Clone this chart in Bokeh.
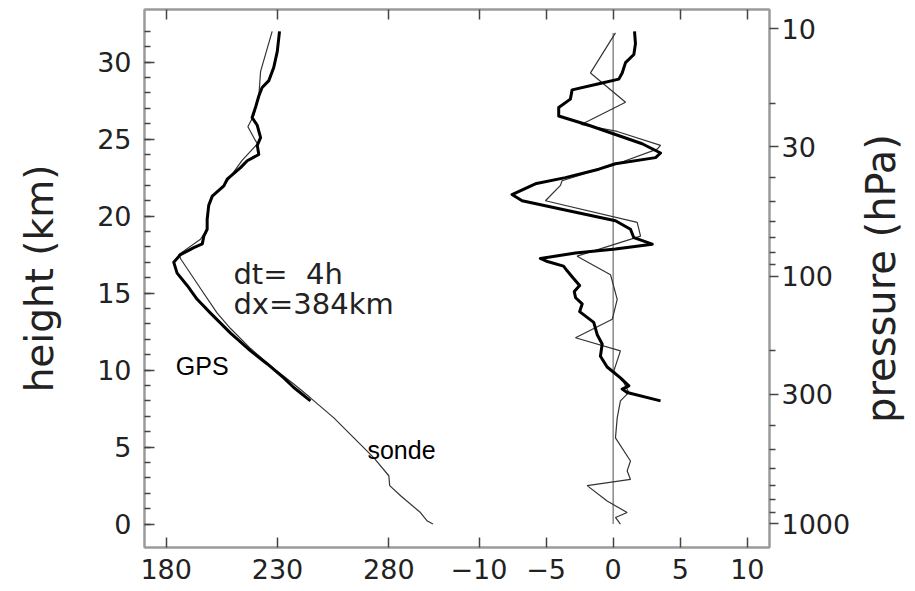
import math
from bokeh.plotting import figure
from bokeh.layouts import row
from bokeh.models import (Range1d, LinearAxis, LogAxis, LogScale, FixedTicker,
                          CustomJSTickFormatter, BasicTickFormatter)
from bokeh.core.properties import value
from bokeh.embed import file_html
from bokeh.resources import INLINE

# ---------------- data ----------------
# GPS temperature profile (K) vs height (km)
gps_h = [32.0, 30.7, 29.65, 28.8, 28.35, 27.8, 27.05, 26.4, 25.9, 25.1, 24.6, 24.0,
         23.6, 23.15, 22.4, 21.97, 21.3, 20.7, 19.8, 19.15, 18.7, 18.2, 17.96, 17.5,
         17.0, 16.3, 15.5, 14.6, 13.7, 12.4, 11.25, 10.4, 9.5, 8.87, 8.0]
gps_T = [230.9, 229.9, 228.3, 226.1, 223.1, 221.6, 220.1, 218.6, 220.9, 222.4, 220.9, 221.6,
         216.4, 213.4, 207.4, 205.9, 200.7, 199.1, 198.4, 198.4, 196.9, 196.2, 192.4, 186.4,
         183.4, 184.9, 189.4, 193.9, 199.9, 208.9, 217.9, 225.4, 232.8, 237.3, 244.8]

# radiosonde temperature profile (K) vs height (km)
sonde_h = [32.0, 29.4, 28.6, 27.8, 27.05, 26.6, 25.8, 24.9, 24.7, 23.6, 22.7, 21.97,
           21.3, 20.7, 19.8, 19.15, 18.5, 17.5, 17.2, 16.6, 15.3, 13.7, 12.7, 11.4,
           10.1, 9.1, 8.2, 6.9, 5.6, 4.3, 3.14, 2.5, 1.84, 0.75, 0.2, 0.0]
sonde_T = [227.6, 222.4, 222.0, 221.6, 220.1, 219.5, 216.7, 220.1, 221.0, 214.0, 209.5, 205.9,
           200.7, 199.1, 198.4, 198.4, 195.4, 185.6, 186.6, 189.4, 195.4, 202.9, 208.9, 217.9,
           228.3, 237.3, 244.8, 255.3, 264.3, 273.3, 280.0, 280.4, 285.3, 294.2, 297.3, 299.8]

# temperature difference, GPS (thick) (K) vs height (km)
dgps_h = [32.0, 31.2, 30.5, 29.97, 29.3, 28.9, 28.6, 28.2, 27.6, 27.05, 26.5, 25.9,
          25.3, 24.7, 24.1, 23.8, 23.4, 23.05, 22.5, 22.1, 21.4, 21.0, 20.3, 19.7,
          19.15, 18.6, 18.18, 17.86, 17.6, 17.25, 17.05, 16.75, 16.45, 16.0, 15.5, 15.1,
          14.7, 14.3, 13.8, 13.1, 12.3, 11.7, 10.9, 10.2, 9.5, 8.98, 8.77, 8.55, 8.0]
dgps_d = [1.59, 1.66, 1.54, 0.92, 0.67, 0.42, -1.07, -3.06, -3.19, -4.06, -4.06, -1.82,
          0.17, 2.16, 3.53, 3.16, 0.17, -1.07, -3.56, -5.8, -7.54, -6.79, -3.06, 0.17,
          1.29, 1.54, 2.91, 0.17, -2.81, -5.43, -4.9, -3.7, -3.43, -3.0, -2.5, -2.9,
          -2.8, -2.31, -2.5, -1.45, -1.19, -0.82, -0.95, -0.45, 0.54, 1.17, 0.67, 1.04, 3.53]

# temperature difference, sonde (thin) (K) vs height (km)
dsonde_h = [31.9, 29.3, 27.4, 26.2, 25.95, 25.5, 24.6, 24.35, 23.4, 22.3, 22.0, 21.0,
            19.6, 18.7, 17.4, 16.2, 14.6, 13.3, 12.1, 11.25, 9.95, 9.2, 8.55, 8.0,
            6.9, 5.6, 4.1, 3.46, 2.9, 2.5, 1.5, 0.75, 0.43, 0.0]
dsonde_d = [0.17, -1.69, 0.92, -1.82, -2.4, 0.3, 3.53, 3.28, 0.3, -3.81, -3.93, -5.05,
            1.79, 2.04, -2.69, -0.2, 0.3, -0.07, -2.81, 0.54, 0.05, 0.79, 1.17, 0.54,
            0.3, 0.17, 1.29, 1.04, 1.29, -1.94, -0.45, 1.04, 0.17, 0.54]

# tick labels
temp_ticks = [180, 230, 280]
diff_ticks = [-10, -5, 0, 5, 10]
x_tick_labels = ["180", "230", "280", "\u221210", "\u22125", "0", "5", "10"]
height_ticks = [0, 5, 10, 15, 20, 25, 30]
height_minor = list(range(0, 33))
p_ticks = [10, 30, 100, 300, 1000]
p_minor = [20, 40, 50, 60, 70, 80, 90, 200, 400, 500, 600, 700, 800, 900]

annot_text = ["dt=\u00a0\u00a04h", "dx=384km"]
annot_T = [210.2, 210.2]
annot_h = [16.25, 14.3]
label_text = ["GPS", "sonde"]
label_T = [184.3, 270.4]
label_h = [10.26, 4.83]

# ---------------- figure ----------------
T_LO, T_HI = 170.25, 451.0
D_LO, D_HI = -34.93, 11.65
H_LO, H_HI = -1.52, 33.42
P_BOT, P_TOP = 1250.0, 8.35

FRAME = "#9a9a9a"
TICK = "#444444"
FONT = "DejaVu Sans"
MAIN_W = 854
SIDE_W = 915 - MAIN_W

p = figure(width=MAIN_W, height=591, output_backend="svg", toolbar_location=None,
           x_range=Range1d(T_LO, T_HI), y_range=Range1d(H_LO, H_HI),
           x_axis_location=None, y_axis_location=None,
           min_border_left=144, min_border_right=MAIN_W - 769, min_border_top=9,
           min_border_bottom=44)
p.extra_x_ranges = {"dT": Range1d(D_LO, D_HI)}
p.extra_y_ranges = {"p": Range1d(P_BOT, P_TOP)}
p.extra_y_scales = {"p": LogScale()}
p.grid.visible = False
p.outline_line_color = FRAME
p.outline_line_width = 2
p.background_fill_color = "white"
p.border_fill_color = "white"


def d2t(d):
    return T_LO + (d - D_LO) / (D_HI - D_LO) * (T_HI - T_LO)


tick_pos = [float(t) for t in temp_ticks] + [d2t(d) for d in diff_ticks]
fmt = CustomJSTickFormatter(args=dict(pos=tick_pos, labs=x_tick_labels), code="""
    let best = 0, bd = Infinity;
    for (let i = 0; i < pos.length; i++) {
        const dd = Math.abs(pos[i] - tick);
        if (dd < bd) { bd = dd; best = i; }
    }
    return labs[best];
""")


def style(ax):
    ax.axis_line_color = FRAME
    ax.axis_line_width = 2
    ax.major_tick_line_color = TICK
    ax.major_tick_line_width = 1.5
    ax.minor_tick_line_color = TICK
    ax.minor_tick_line_width = 1.5
    ax.major_label_text_font = FONT
    ax.major_label_text_font_size = "27px"
    ax.major_label_text_color = "#222222"
    ax.axis_label_text_font = FONT
    ax.axis_label_text_font_size = "39px"
    ax.axis_label_text_font_style = "normal"
    ax.axis_label_text_color = "#222222"


xb = LinearAxis(ticker=FixedTicker(ticks=tick_pos), formatter=fmt)
style(xb)
xb.major_tick_in = 10
xb.major_tick_out = 0
xb.major_label_standoff = 11
p.add_layout(xb, "below")

xt = LinearAxis(ticker=FixedTicker(ticks=tick_pos), formatter=fmt)
style(xt)
xt.major_tick_in = 10
xt.major_tick_out = 0
xt.major_label_text_font_size = "1px"
xt.major_label_text_alpha = 0
xt.major_label_standoff = 0
p.add_layout(xt, "above")

yl = LinearAxis(ticker=FixedTicker(ticks=height_ticks, minor_ticks=height_minor),
                axis_label="height (km)")
style(yl)
yl.major_tick_in = 10
yl.major_tick_out = 0
yl.minor_tick_in = 6
yl.minor_tick_out = 0
yl.major_label_standoff = 13
yl.axis_label_standoff = 32
p.add_layout(yl, "left")

yr = LogAxis(y_range_name="p", ticker=FixedTicker(ticks=p_ticks, minor_ticks=p_minor),
             formatter=BasicTickFormatter())
style(yr)
yr.major_tick_in = 0
yr.major_tick_out = 9
yr.minor_tick_in = 0
yr.minor_tick_out = 6
yr.major_label_standoff = 3
p.add_layout(yr, "right")

# ---------------- glyphs ----------------
zero_x = [0, 0]
zero_h = [min(dsonde_h), max(dsonde_h)]
p.line(zero_x, zero_h, x_range_name="dT", line_color="#8a8a8a", line_width=1.5)

p.line(sonde_T, sonde_h, line_color="#333333", line_width=1.2)
p.line(gps_T, gps_h, line_color="black", line_width=3, line_join="round")

p.line(dsonde_d, dsonde_h, x_range_name="dT", line_color="#333333", line_width=1.2)
p.line(dgps_d, dgps_h, x_range_name="dT", line_color="black", line_width=3,
       line_join="round")

p.text(x=annot_T, y=annot_h, text=annot_text, text_font=value(FONT),
       text_font_size=value("29px"), text_color="#222222",
       text_align="left", text_baseline="alphabetic")
p.text(x=label_T, y=label_h, text=label_text, text_font=value("Liberation Sans"),
       text_font_size=value("25px"), text_color="black",
       text_align="left", text_baseline="alphabetic")

# ---------------- right-hand title strip (reads upwards, like the left title) ----
p2 = figure(width=SIDE_W, height=591, output_backend="svg", toolbar_location=None,
            x_range=Range1d(0, 1), y_range=Range1d(0, 1),
            x_axis_location=None, y_axis_location=None,
            min_border_left=0, min_border_right=0, min_border_top=9,
            min_border_bottom=44)
p2.grid.visible = False
p2.outline_line_color = None
p2.background_fill_color = "white"
p2.border_fill_color = "white"
ax2 = LinearAxis(ticker=FixedTicker(ticks=[]), axis_label="pressure (hPa)")
style(ax2)
ax2.axis_label_text_font_size = "40px"
ax2.axis_line_color = None
ax2.major_tick_line_color = None
ax2.minor_tick_line_color = None
ax2.major_tick_in = 0
ax2.major_tick_out = 0
ax2.minor_tick_in = 0
ax2.minor_tick_out = 0
ax2.major_label_standoff = 0
ax2.axis_label_standoff = 0
p2.add_layout(ax2, "left")

layout = row(p, p2, spacing=0)
open("out.html", "w").write(file_html(layout, INLINE))
